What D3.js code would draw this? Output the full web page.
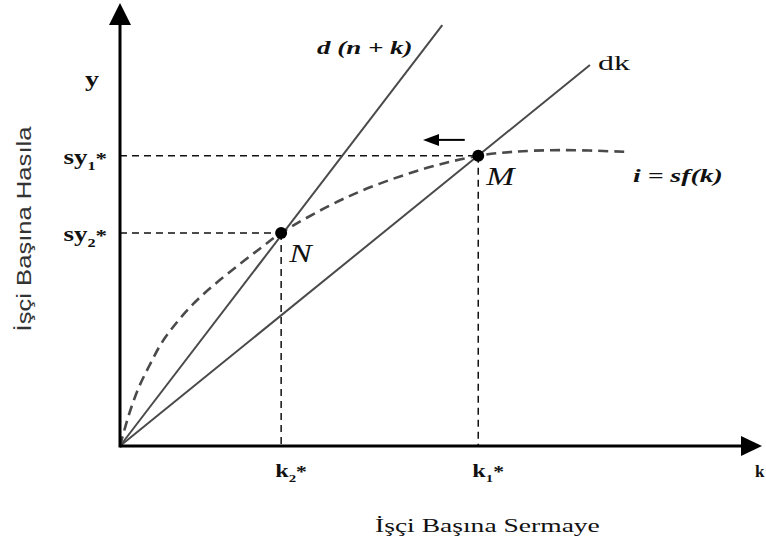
<!DOCTYPE html>
<html>
<head>
<meta charset="utf-8">
<script src="https://cdn.jsdelivr.net/npm/d3@7"></script>
<style>
  body { margin: 0; background: #fff; }
  svg { display: block; }
</style>
</head>
<body>
<svg width="766" height="542"></svg>
<script>
const width = 766, height = 542;
const svg = d3.select("svg");

// savings curve i = sf(k)
const curveK = [0, 0.09, 0.19, 0.31, 0.47, 0.65, 0.89, 1.17, 1.50, 1.87, 2.21, 2.51, 3.54, 4.67, 5.58, 6.12, 6.90, 7.87];
const curveI = [0, 0.47, 0.93, 1.38, 1.85, 2.33, 2.80, 3.25, 3.68, 4.11, 4.49, 4.81, 5.62, 6.23, 6.55, 6.64, 6.68, 6.64];

// straight lines out of the origin (end points)
const lineNames = ["d (n + k)", "dk"];
const lineEndK = [5.02, 7.32];
const lineEndY = [9.50, 8.60];

// steady states N and M
const pointNames = ["N", "M"];
const pointK = [2.51, 5.58];
const pointY = [4.81, 6.55];
const pointSub = ["2", "1"];

// little arrow near M
const shiftFrom = 5.37, shiftTo = 4.72, shiftY = 6.91;

const serif = "Liberation Serif, Times New Roman, serif";

const x = d3.scaleLinear().domain([0, 10]).range([120, 762]);
const y = d3.scaleLinear().domain([0, 10]).range([446, 3]);

// text that is stretched sideways like the scanned original
function stretched(px, py, sx, size) {
    return svg.append("text")
        .attr("transform", `translate(${px},${py}) scale(${sx},1)`)
        .style("font-family", serif)
        .attr("font-size", size)
        .attr("fill", "#111");
}

// reference dashes
pointK.forEach((k, i) => {
    svg.append("line")
        .attr("x1", x(0)).attr("x2", x(k))
        .attr("y1", y(pointY[i])).attr("y2", y(pointY[i]))
        .attr("stroke", "#111").attr("stroke-width", 1.5)
        .attr("stroke-dasharray", "7,5");
    svg.append("line")
        .attr("x1", x(k)).attr("x2", x(k))
        .attr("y1", y(pointY[i])).attr("y2", y(0))
        .attr("stroke", "#111").attr("stroke-width", 1.5)
        .attr("stroke-dasharray", "7,5");
});

// lines d(n+k) and dk
lineNames.forEach((n, i) => {
    svg.append("line")
        .attr("x1", x(0)).attr("y1", y(0))
        .attr("x2", x(lineEndK[i])).attr("y2", y(lineEndY[i]))
        .attr("stroke", "#4a4a4a").attr("stroke-width", 2);
});

// savings curve
const curveData = curveK.map((k, i) => [k, curveI[i]]);
svg.append("path")
    .datum(curveData)
    .attr("d", d3.line().x(d => x(d[0])).y(d => y(d[1])).curve(d3.curveCatmullRom.alpha(0.5)))
    .attr("fill", "none")
    .attr("stroke", "#4a4a4a")
    .attr("stroke-width", 2.6)
    .attr("stroke-dasharray", "10,6");

// axes with arrow heads
svg.append("line")
    .attr("x1", x(0)).attr("y1", y(0)).attr("x2", x(10) - 18).attr("y2", y(0))
    .attr("stroke", "#000").attr("stroke-width", 3);
svg.append("path")
    .attr("d", `M${x(10)},${y(0)} L${x(10) - 21},${y(0) - 10} L${x(10) - 21},${y(0) + 10} Z`)
    .attr("fill", "#000");
svg.append("line")
    .attr("x1", x(0)).attr("y1", y(0) + 1.5).attr("x2", x(0)).attr("y2", y(10) + 18)
    .attr("stroke", "#000").attr("stroke-width", 3);
svg.append("path")
    .attr("d", `M${x(0)},${y(10)} L${x(0) - 11},${y(10) + 22} L${x(0) + 11},${y(10) + 22} Z`)
    .attr("fill", "#000");

// dots
svg.selectAll(".pt")
    .data(pointK)
    .join("circle")
    .attr("class", "pt")
    .attr("cx", d => x(d))
    .attr("cy", (d, i) => y(pointY[i]))
    .attr("r", 6)
    .attr("fill", "#000");

// arrow near M
svg.append("line")
    .attr("x1", x(shiftFrom)).attr("x2", x(shiftTo) + 12)
    .attr("y1", y(shiftY)).attr("y2", y(shiftY))
    .attr("stroke", "#000").attr("stroke-width", 2);
svg.append("path")
    .attr("d", `M${x(shiftTo)},${y(shiftY)} L${x(shiftTo) + 16},${y(shiftY) - 6} L${x(shiftTo) + 16},${y(shiftY) + 6} Z`)
    .attr("fill", "#000");

// line labels
stretched(317, 54, 1.42, 19)
    .attr("font-weight", "bold").attr("font-style", "italic")
    .text(lineNames[0]);
stretched(598, 70, 1.45, 22).text(lineNames[1]);
stretched(633, 182, 1.46, 19)
    .attr("font-weight", "bold").attr("font-style", "italic")
    .text("i = sf(k)");

// point labels
pointNames.forEach((n, i) => {
    stretched(x(pointK[i]) + 8, y(pointY[i]) + 29, 1.3, 26)
        .attr("font-style", "italic")
        .text(n);
});

// axis tick labels k*, sy*
pointK.forEach((k, i) => {
    const t = stretched(x(k) - 6, 477, 1.35, 18).attr("font-weight", "bold");
    t.append("tspan").text("k");
    t.append("tspan").attr("font-size", 11).attr("dy", 5).text(pointSub[i]);
    t.append("tspan").attr("font-size", 16).attr("dy", -5).text("*");

    const s = stretched(x(0) - 13, y(pointY[i]) + 8, 1.35, 20)
        .attr("font-weight", "bold").attr("text-anchor", "end");
    s.append("tspan").text("sy");
    s.append("tspan").attr("font-size", 12).attr("dy", 6).text(pointSub[i]);
    s.append("tspan").attr("font-size", 17).attr("dy", -6).text("*");
});

// axis letters
stretched(85, 86, 1.4, 20).attr("font-weight", "bold").text("y");
stretched(755, 477, 1.0, 17).attr("font-weight", "bold").text("k");

// axis titles
stretched(375, 532, 1.45, 19).text("İşçi Başına Sermaye");
svg.append("text")
    .attr("transform", "translate(31,229) rotate(-90) scale(1.28,1)")
    .attr("text-anchor", "middle")
    .style("font-family", "Liberation Sans, Arial, sans-serif")
    .attr("font-size", 20)
    .attr("fill", "#333")
    .text("İşçi Başına Hasıla");
</script>
</body>
</html>
